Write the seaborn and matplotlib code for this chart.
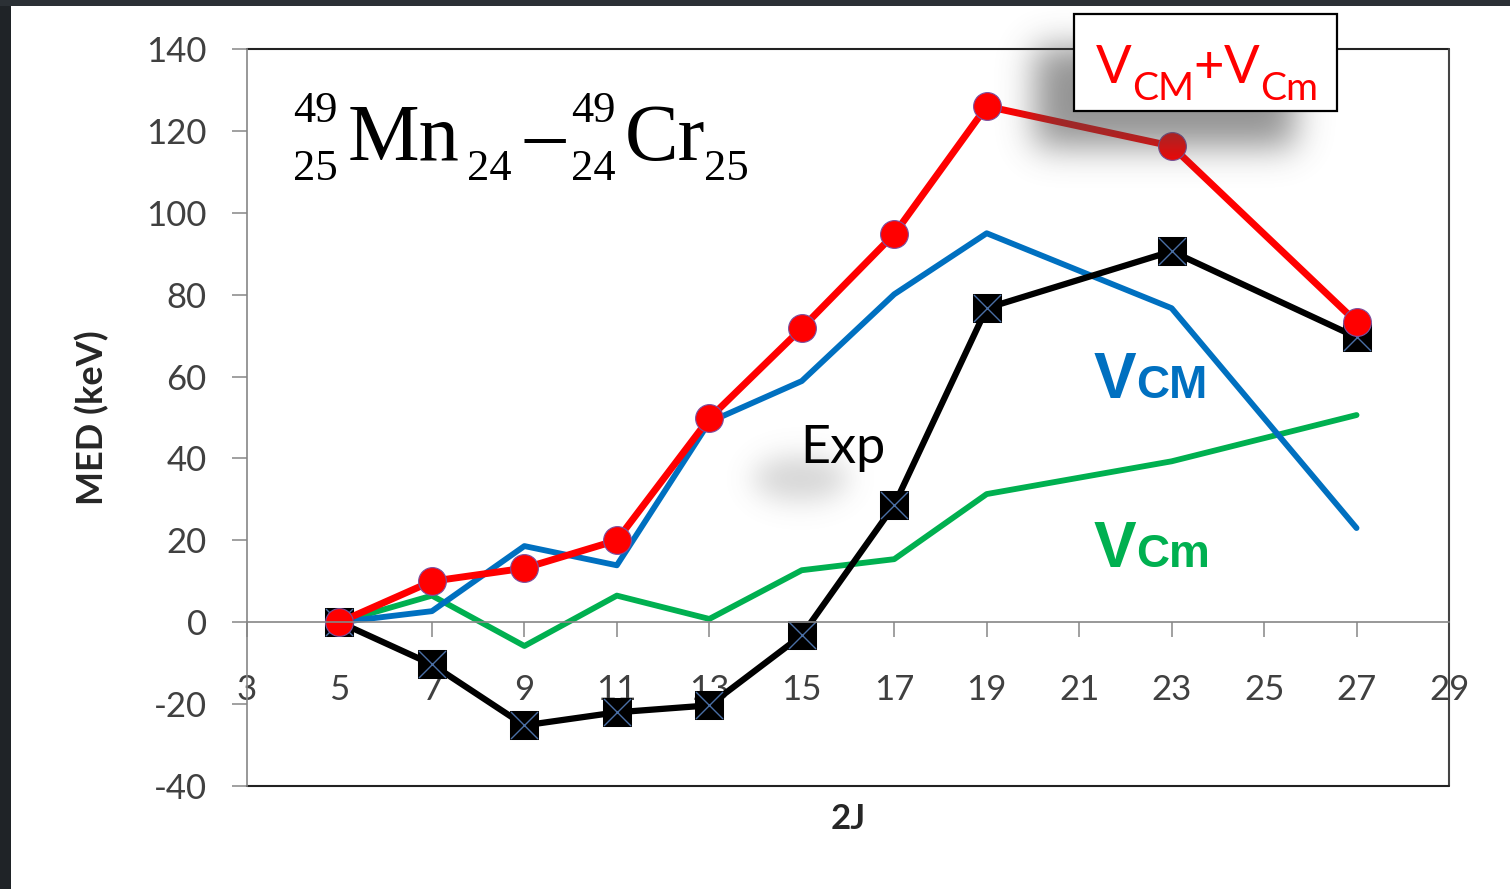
import matplotlib
matplotlib.use("Agg")
import matplotlib.pyplot as plt
import numpy as np
import seaborn as sns
from matplotlib.patches import Rectangle

sns.set_theme(style="white")
plt.rcParams["font.family"] = ["Lato", "DejaVu Sans"]
plt.rcParams["axes.unicode_minus"] = False

# values
two_j = [5, 7, 9, 11, 13, 15, 17, 19, 23, 27]
exp_med = [0, -10.3, -25.2, -22.0, -20.3, -3.2, 28.6, 76.7, 90.6, 69.6]
v_cm_big = [0, 2.7, 18.6, 13.9, 48.9, 58.9, 80.1, 95.0, 76.7, 23.0]
v_cm_small = [0, 6.5, -5.8, 6.5, 0.8, 12.7, 15.4, 31.3, 39.3, 50.6]
v_total = [0, 10.0, 13.2, 20.0, 49.8, 71.8, 94.8, 126.0, 116.3, 73.3]
x_ticks = list(range(3, 30, 2))
y_ticks = list(range(-40, 141, 20))

W, H = 1510, 889
GRAY = "#868686"
TICK_TXT = "#404040"


def fx(x):
    return x / W


def fy(y):
    return 1 - y / H


def blur(mask, sigma):
    k = np.arange(-3 * sigma, 3 * sigma + 1)
    g = np.exp(-k ** 2 / (2.0 * sigma ** 2))
    g /= g.sum()
    out = np.apply_along_axis(lambda r: np.convolve(r, g, mode="same"), 1, mask)
    out = np.apply_along_axis(lambda c: np.convolve(c, g, mode="same"), 0, out)
    return out


def shadow(fig, left, top, w, h, mask, sigma, alpha, tone=0.35, z=3):
    a = blur(mask.astype(float), sigma) * alpha
    img = np.zeros((h, w, 4))
    img[..., :3] = tone
    img[..., 3] = a
    fig.figimage(img, xo=left, yo=H - (top + h), origin="upper", zorder=z)


fig = plt.figure(figsize=(W / 100, H / 100), dpi=100)
fig.patch.set_facecolor("white")
ax = fig.add_axes([fx(247), fy(786), (1449 - 247) / W, (786 - 49) / H])
ax.set_facecolor("white")

sns.lineplot(x=two_j, y=v_cm_small, ax=ax, color="#00b050", lw=4.2, zorder=2, legend=False)
sns.lineplot(x=two_j, y=v_cm_big, ax=ax, color="#0070c0", lw=4.2, zorder=2.1, legend=False)
sns.lineplot(x=two_j, y=exp_med, ax=ax, color="black", lw=4.5, marker="s", markersize=20,
             markeredgecolor="black", zorder=2.2, legend=False)
sns.scatterplot(x=two_j, y=exp_med, ax=ax, marker="x", s=380, color="#4a6fa5", linewidth=1.0,
                zorder=2.3, legend=False)
sns.lineplot(x=two_j, y=v_total, ax=ax, color="#ff0000", lw=5, marker="o", markersize=20,
             markeredgecolor="#7a50a0", markeredgewidth=0.8, zorder=2.4, legend=False)

ax.set_xlim(3, 29)
ax.set_ylim(-40, 140)
ax.set_xticks(x_ticks)
ax.set_yticks(y_ticks)
ax.set_xlabel("")
ax.set_ylabel("")

ax.spines["bottom"].set_position(("data", 0))
ax.spines["bottom"].set_color(GRAY)
ax.spines["bottom"].set_linewidth(1.2)
ax.spines["left"].set_color(GRAY)
ax.spines["left"].set_linewidth(1.2)
for side in ["top", "right"]:
    ax.spines[side].set_visible(False)
# outer plot-area border
ax.plot([0, 1], [1, 1], transform=ax.transAxes, color="#222222", lw=1.5, clip_on=False, zorder=1)
ax.plot([1, 1], [0, 1], transform=ax.transAxes, color="#444444", lw=1.5, clip_on=False, zorder=1)
ax.plot([0, 1], [0, 0], transform=ax.transAxes, color="#222222", lw=1.5, clip_on=False, zorder=1)

ax.tick_params(axis="x", direction="out", length=11, width=1.1, color=GRAY, pad=26,
               labelsize=25, labelcolor=TICK_TXT, bottom=True)
ax.tick_params(axis="y", direction="out", length=11, width=1.1, color=GRAY, pad=18,
               labelsize=25, labelcolor=TICK_TXT, left=True)

fig.text(fx(92), fy(418), "MED (keV)", rotation=90, ha="center", va="center",
         fontsize=26, fontweight="bold", color="#262626")
fig.text(fx(848), fy(819), "2J", ha="center", va="center",
         fontsize=25, fontweight="bold", color="#262626")

# page frame
fig.patches.append(Rectangle((0, 0), fx(11), 1, transform=fig.transFigure,
                             facecolor="#1f2327", edgecolor="none", zorder=0))
fig.patches.append(Rectangle((0, fy(6)), 1, 6 / H, transform=fig.transFigure,
                             facecolor="#2b3035", edgecolor="none", zorder=0))

# blurred shadows
sh_w, sh_h = 380, 210
m = np.zeros((sh_h, sh_w))
m[42:142, 1035 - 980:1295 - 980] = 1
shadow(fig, 980, 5, sh_w, sh_h, m, 17, 0.6, tone=0.3)

ew, eh = 220, 130
yy, xx = np.mgrid[0:eh, 0:ew]
em = (((xx - 90) / 48.0) ** 2 + ((yy - 70) / 22.0) ** 2) <= 1
shadow(fig, 710, 408, ew, eh, em, 14, 0.28, tone=0.4)

# legend box
fig.patches.append(Rectangle((fx(1074), fy(111)), (1337 - 1074) / W, (111 - 14) / H,
                             transform=fig.transFigure, facecolor="white",
                             edgecolor="black", lw=1.6, zorder=4))

fig.canvas.draw()
renderer = fig.canvas.get_renderer()


def chain(x0, pieces, **kw):
    x = x0
    for s, size, base in pieces:
        t = fig.text(fx(x), fy(base), s, fontsize=size, ha="left", va="baseline", zorder=5, **kw)
        bb = t.get_window_extent(renderer=renderer)
        x = bb.x1


chain(1096, [("V", 38, 83), ("CM", 28, 100), ("+", 38, 83), ("V", 38, 83), ("Cm", 28, 100)],
      color="#ff0000")
chain(1094, [("V", 46, 398), ("CM", 33, 398)], color="#0070c0", fontweight="bold",
      family="Liberation Sans")
chain(1094, [("V", 46, 567), ("Cm", 33, 567)], color="#00b050", fontweight="bold",
      family="Liberation Sans")
fig.text(fx(800), fy(463), "Exp", fontsize=37.5, ha="left", va="baseline", color="black", zorder=5)

# nuclide title
serif = "Liberation Serif"
title_parts = [
    ("49", 32, 293, 122), ("25", 32, 293, 180),
    ("Mn", 58, 348, 160), ("24", 32, 467, 180),
    ("\u2013", 58, 524, 160),
    ("49", 32, 571, 122), ("24", 32, 571, 180),
    ("Cr", 58, 625, 160), ("25", 32, 704, 180),
]
for s, size, x, base in title_parts:
    fig.text(fx(x), fy(base), s, fontsize=size, family=serif, ha="left", va="baseline",
             color="black", zorder=5)

fig.savefig("out.png", dpi=100)
